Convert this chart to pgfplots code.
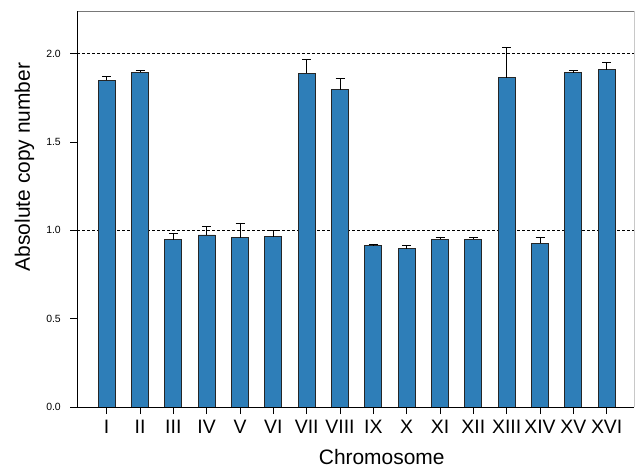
\documentclass[border=0pt]{standalone}
\usepackage{fontspec}
\setmainfont{Liberation Sans}
\usepackage{pgfplots}
\usepackage{pgfplotstable}
\pgfplotsset{compat=1.18}

\definecolor{barblue}{RGB}{46,126,184}
\definecolor{framegrey}{RGB}{120,120,120}
\definecolor{rightgrey}{RGB}{200,200,200}

% Copy number per chromosome: mean and upper error
\pgfplotstableread{
x  y      e
0  1.847  0.023
1  1.893  0.011
2  0.947  0.034
3  0.973  0.046
4  0.957  0.084
5  0.964  0.036
6  1.889  0.075
7  1.795  0.064
8  0.913  0.007
9  0.896  0.019
10 0.949  0.013
11 0.949  0.009
12 1.862  0.174
13 0.925  0.034
14 1.890  0.016
15 1.907  0.040
}\copytable

\begin{document}
\begin{tikzpicture}
\useasboundingbox (0bp,0bp) rectangle (635bp,468bp);
\begin{axis}[
  at={(77bp,61bp)}, anchor=south west,
  scale only axis, width=557bp, height=396bp,
  xmin=-0.89, xmax=15.82, ymin=0, ymax=2.24,
  axis line style={draw=none},
  xtick={0,...,15},
  xticklabels={I,II,III,IV,V,VI,VII,VIII,IX,X,XI,XII,XIII,XIV,XV,XVI},
  ytick={0,0.5,1,1.5,2},
  xtick pos=lower, ytick pos=left,
  tick align=outside,
  major tick length=7bp,
  tick style={black, line width=0.6bp},
  /pgf/number format/assume math mode=true,
  yticklabel style={/pgf/number format/.cd, fixed, fixed zerofill, precision=1,
    /tikz/.cd, font=\fontsize{10.5}{10.5}\selectfont, anchor=east, inner sep=0pt,
    xshift=-9bp, text=black},
  xticklabel style={font=\fontsize{19.5}{19.5}\selectfont, anchor=north, inner sep=0pt,
    yshift=-6bp, text=black},
  xlabel={Chromosome},
  ylabel={Absolute copy number},
  xlabel style={font=\fontsize{21}{21}\selectfont, at={(axis description cs:0.547,-0.146)}, anchor=base},
  ylabel style={font=\fontsize{21}{21}\selectfont, at={(axis description cs:-0.0844,0.606)}, anchor=base},
  clip=false,
]
% reference levels at one and two copies
\addplot[black, line width=0.6bp, dash pattern=on 2.5bp off 2.5bp] coordinates {(-0.89,1) (15.82,1)};
\addplot[black, line width=0.6bp, dash pattern=on 2.5bp off 2.5bp] coordinates {(-0.89,2) (15.82,2)};

\addplot[ybar, bar width=17bp, bar shift=0pt, fill=barblue, draw=black!85, line width=0.8bp,
  error bars/.cd, y dir=plus, y explicit,
  error bar style={black, line width=0.8bp},
  error mark options={rotate=90, mark size=4.5bp, line width=0.8bp, black}]
  table[x=x, y=y, y error=e] {\copytable};

% frame
\draw[framegrey, line width=0.9bp] (rel axis cs:0,1) -- (rel axis cs:1,1);
\draw[rightgrey, line width=0.8bp] (rel axis cs:1,0) -- (rel axis cs:1,1);
\draw[black, line width=0.8bp] (rel axis cs:0,0) -- (rel axis cs:0,1);
\draw[black, line width=0.8bp] (rel axis cs:0,0) -- (rel axis cs:1,0);
\end{axis}
\end{tikzpicture}
\end{document}
